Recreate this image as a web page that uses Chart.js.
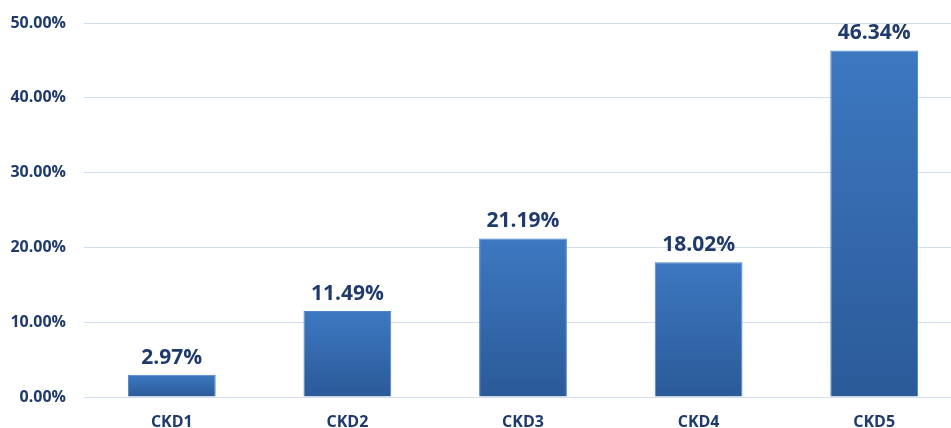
<!DOCTYPE html>
<html>
<head>
<meta charset="utf-8">
<script src="https://cdn.jsdelivr.net/npm/chart.js@4/dist/chart.umd.min.js"></script>
<style>
  html, body { margin: 0; padding: 0; background: #fff; overflow: hidden; }
  #wrap { width: 962px; height: 428px; }
</style>
</head>
<body>
<div id="wrap"><canvas id="chart"></canvas></div>
<script>
// data
const categories = ["CKD1", "CKD2", "CKD3", "CKD4", "CKD5"];
const shares = [2.97, 11.49, 21.19, 18.02, 46.34];
const yTicks = [0, 10, 20, 30, 40, 50];

const NAVY = "#1f3a6b";
const FONT = "'Open Sans', 'Noto Sans', sans-serif";

// bar gradient: lighter on top, darker at base (per bar)
function barFill(ctx) {
  const chart = ctx.chart;
  if (!chart.chartArea || !chart.scales.y) return "#3567ad";
  const y = chart.scales.y;
  const top = y.getPixelForValue(ctx.raw);
  const bottom = y.getPixelForValue(0);
  const g = chart.ctx.createLinearGradient(0, top, 0, bottom);
  g.addColorStop(0, "#3d78c1");
  g.addColorStop(1, "#2b5a98");
  return g;
}

// value labels above the bars
const valueLabels = {
  id: "valueLabels",
  afterDatasetsDraw(chart) {
    const c = chart.ctx;
    const meta = chart.getDatasetMeta(0);
    c.save();
    c.font = "bold 21px " + FONT;
    c.fillStyle = NAVY;
    c.textAlign = "center";
    c.textBaseline = "alphabetic";
    meta.data.forEach((bar, i) => {
      c.fillText(shares[i].toFixed(2) + "%", bar.x, bar.y - 11);
    });
    c.restore();
  },
};

new Chart(document.getElementById("chart"), {
  type: "bar",
  data: {
    labels: categories,
    datasets: [
      {
        data: shares,
        backgroundColor: barFill,
        borderColor: "#4a83c9",
        borderWidth: 1,
        barPercentage: 0.5,
        categoryPercentage: 1,
      },
    ],
  },
  options: {
    responsive: true,
    maintainAspectRatio: false,
    animation: false,
    layout: { padding: { top: 23, right: 0, bottom: 0, left: 0 } },
    plugins: { legend: { display: false }, tooltip: { enabled: false } },
    scales: {
      x: {
        grid: { display: false },
        border: { display: false },
        ticks: { color: NAVY, font: { family: FONT, size: 16, weight: "bold" }, padding: 8 },
        afterFit: (s) => { s.height = 31; },
      },
      y: {
        min: yTicks[0],
        max: yTicks[yTicks.length - 1],
        afterBuildTicks: (s) => { s.ticks = yTicks.map((v) => ({ value: v })); },
        grid: { color: "#d3def0", lineWidth: 1, drawTicks: false },
        border: { display: false },
        ticks: {
          color: NAVY,
          font: { family: FONT, size: 16, weight: "bold" },
          padding: 18,
          callback: (v) => v.toFixed(2) + "%",
        },
        afterFit: (s) => {
          s.width = 84;
          s.paddingTop = 0;
          s.paddingBottom = 0;
        },
      },
    },
  },
  plugins: [valueLabels],
});
</script>
</body>
</html>
